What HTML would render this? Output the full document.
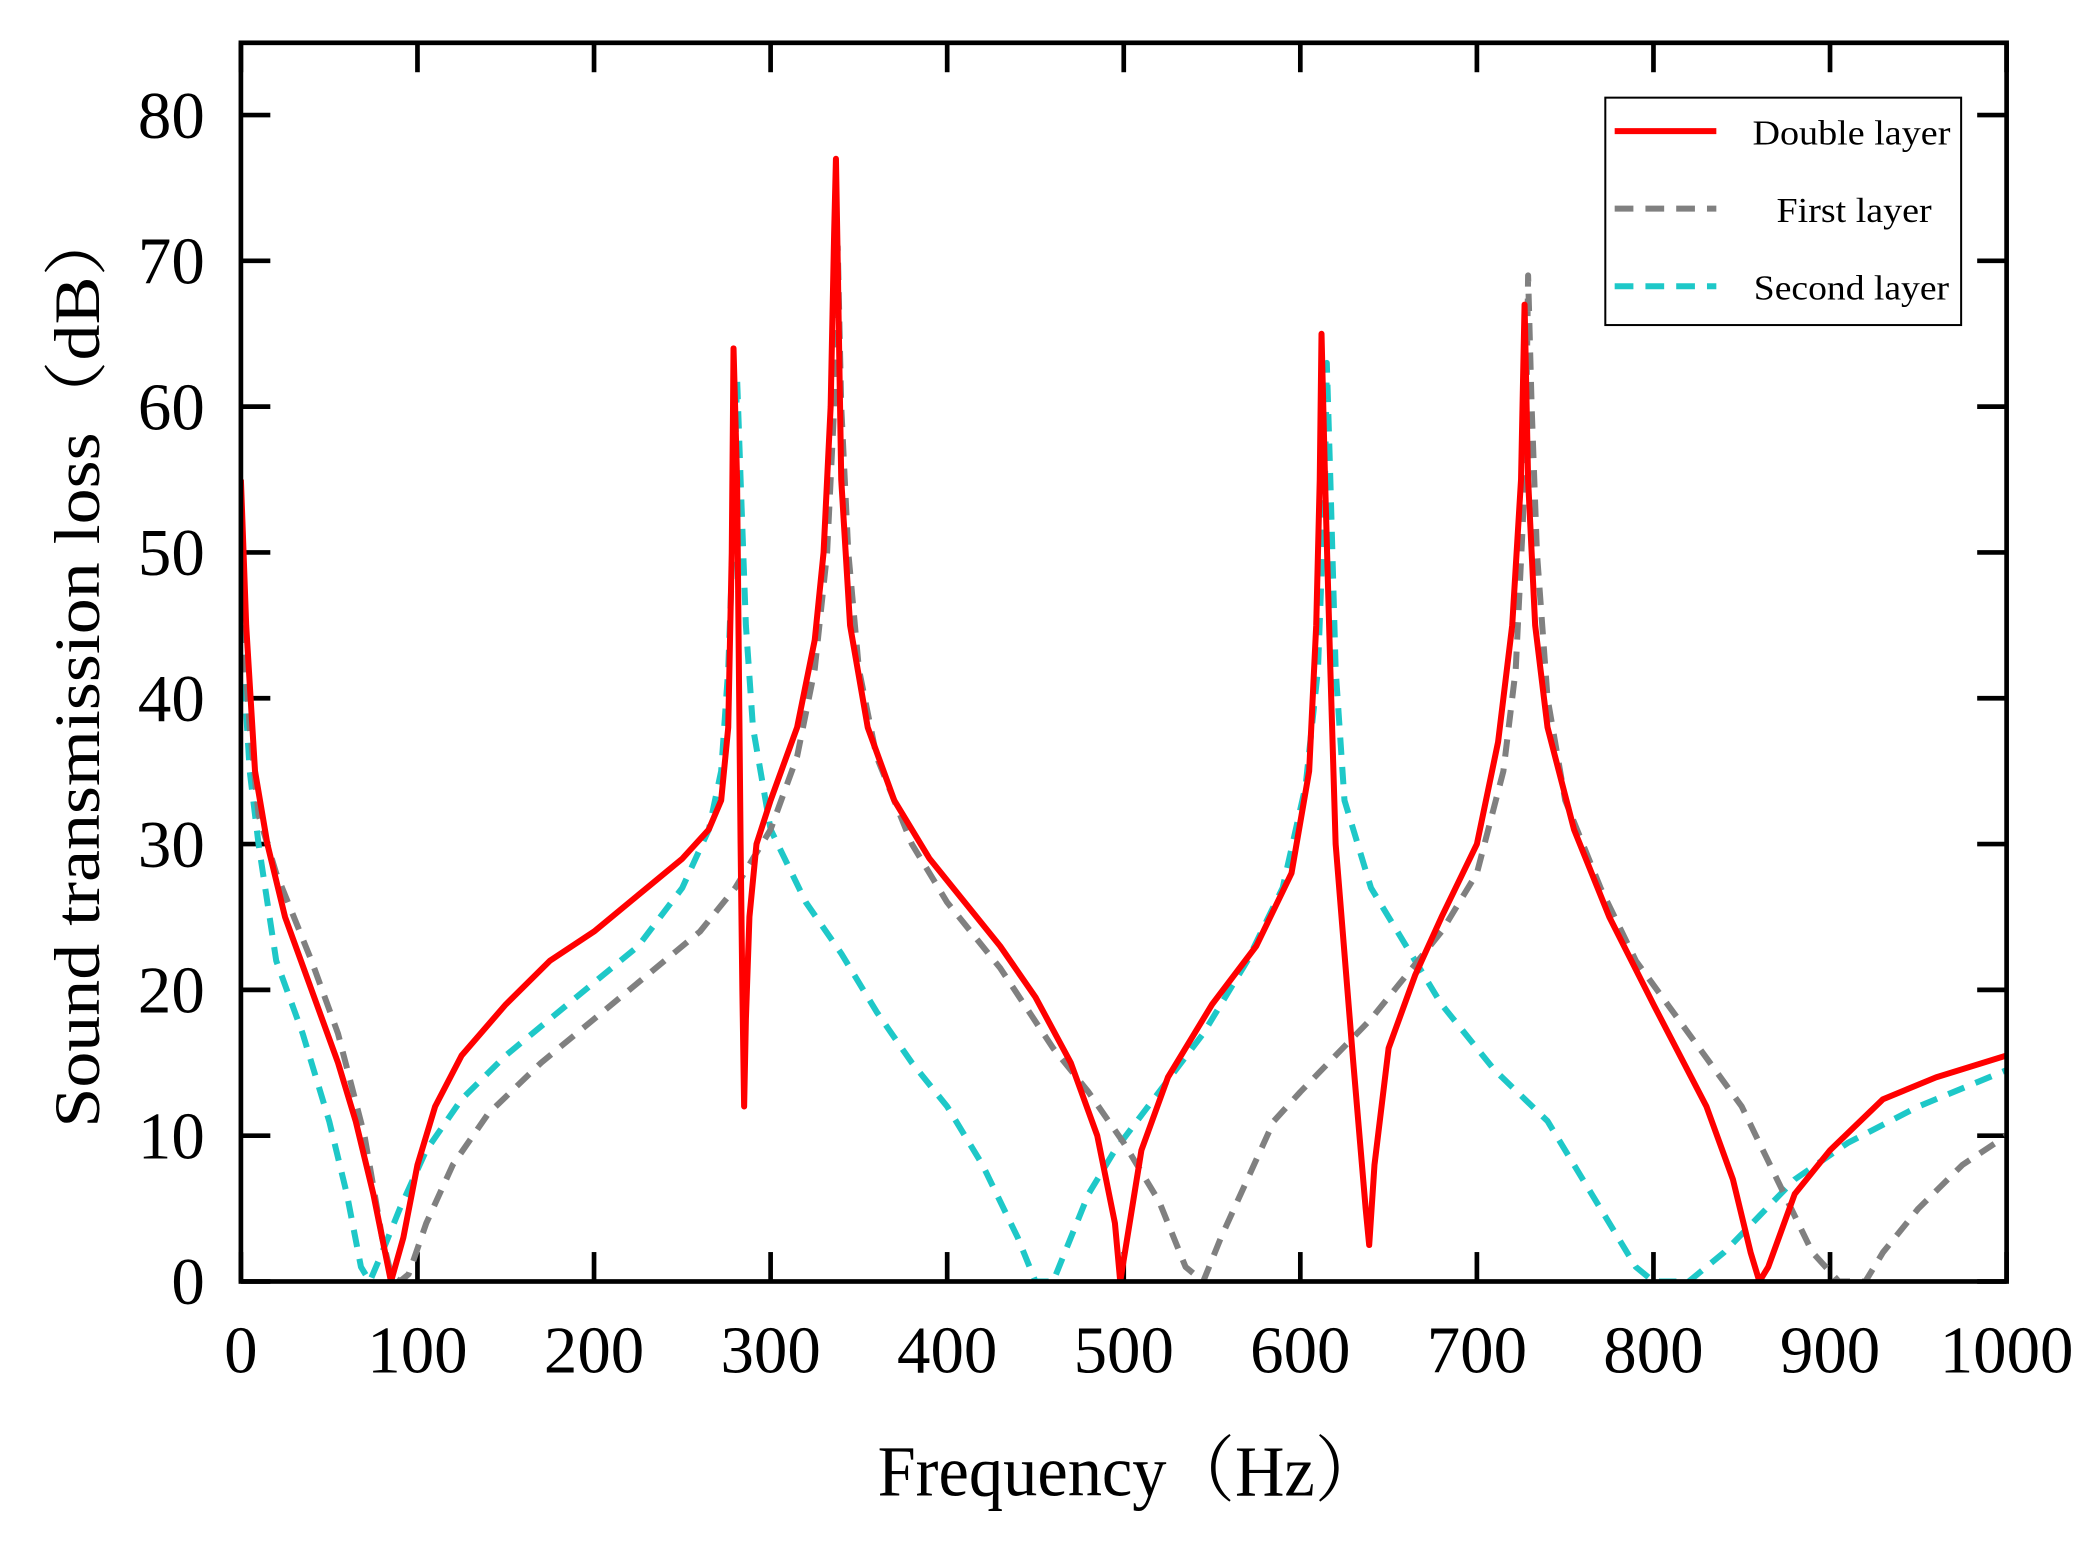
<!DOCTYPE html>
<html><head><meta charset="utf-8"><style>
html,body{margin:0;padding:0;background:#fff;}
svg{display:block;}
text{font-family:"Liberation Serif","Noto Serif CJK SC",serif;fill:#000;}
</style></head><body>
<svg id="chart" width="2091" height="1545" viewBox="0 0 1563 1155" xmlns="http://www.w3.org/2000/svg">
<defs><clipPath id="clip"><rect x="180" y="32" width="1320" height="926"/></clipPath></defs>
<g id="grid"></g>
<g id="series" clip-path="url(#clip)"></g>
<rect x="180" y="32" width="1320" height="926" fill="none" stroke="#000" stroke-width="3.5"/>
<text transform="translate(74,498) rotate(-90)" text-anchor="middle" font-size="48" textLength="690" lengthAdjust="spacingAndGlyphs">Sound transmission loss（dB）</text>
<text x="845" y="1118" text-anchor="middle" font-size="54" textLength="378" lengthAdjust="spacingAndGlyphs">Frequency（Hz）</text>
<g>
<rect x="1200" y="73" width="266" height="170" fill="#fff" stroke="#000" stroke-width="1.5"/>
<line x1="1207" y1="98" x2="1283" y2="98" stroke="#ff0000" stroke-width="4.5"/>
<text x="1384" y="108" text-anchor="middle" font-size="26" textLength="148" lengthAdjust="spacingAndGlyphs">Double layer</text>
<line x1="1207" y1="156" x2="1283" y2="156" stroke="#808080" stroke-width="4.5" stroke-dasharray="14,9"/>
<text x="1386" y="166" text-anchor="middle" font-size="26" textLength="116" lengthAdjust="spacingAndGlyphs">First layer</text>
<line x1="1207" y1="214" x2="1283" y2="214" stroke="#1ec8c8" stroke-width="4.5" stroke-dasharray="14,9"/>
<text x="1384" y="224" text-anchor="middle" font-size="26" textLength="146" lengthAdjust="spacingAndGlyphs">Second layer</text>
</g>
</svg>
<script>
const xTicks=[0,100,200,300,400,500,600,700,800,900,1000];
const yTicks=[0,10,20,30,40,50,60,70,80];
const doubleFreq=[0,3,8,15,25,40,55,65,75,85,92,100,110,125,150,175,200,225,250,265,272,276,278,279,281,283,284,285,286,288,292,300,315,325,330,334,336,337,338,340,345,355,370,390,410,430,450,470,485,495,498,502,510,525,550,575,595,605,609,611,612,614,617,620,630,637,639,642,650,665,680,700,712,720,725,727,729,733,740,755,775,800,830,845,855,860,865,880,900,930,960,1000];
const doubleDB=[55,45,35,30,25,20,15,11,6,0,3,8,12,15.5,19,22,24,26.5,29,31,33,38,50,64,55,30,20,12,18,25,30,33,38,44,50,60,72,77,70,55,45,38,33,29,26,23,19.5,15,10,4,0,3,9,14,19,23,28,35,45,55,65,55,42,30,15,5,2.5,8,16,21,25,30,37,45,55,67,55,45,38,31,25,19,12,7,2,0,1,6,9,12.5,14,15.5];
const firstFreq=[0,5,10,20,40,55,70,80,85,90,95,105,120,140,170,200,230,260,280,300,315,325,332,336,338,340,344,350,360,380,400,430,460,480,500,520,535,545,555,570,585,600,620,640,660,680,700,715,722,726,728,729,731,734,740,750,770,790,820,850,870,890,905,920,930,950,975,1000];
const firstDB=[47,38,32,28,22,17,10,3,0.5,0,0.5,4,8,11.5,15,18,21,24,27,31,36,42,50,60,71,60,50,42,36,30,26,21.5,16,13,9.5,5.5,1,0,3,7,11,13,15.5,18,21,24,28,35,42,52,60,69,60,50,40,33,27,22,17,12,7,2,0,0,2,5,8,10];
const secondFreq=[0,5,10,20,35,50,60,68,73,80,90,105,125,150,175,200,225,250,265,272,276,279,281,283,286,290,300,320,340,360,380,400,420,440,450,460,470,480,495,520,545,570,590,603,610,614,615,617,620,625,640,660,680,710,740,770,790,800,820,840,860,880,910,950,1000];
const secondDB=[45,35,30,22,17,11,6,1,0,2,5,9,12.5,15.5,18,20.5,23,27,31,35,42,52,62,55,45,38,31,26,22.5,18.5,15,12,8,3,0,0,3,6,9,13,17,22,27,34,42,55,63,55,42,33,27,23,19,14.5,11,5,1,0,0,2,4.5,7,9.5,12,14.5];

const NS='http://www.w3.org/2000/svg';
const X0=180,X1=1500,Y0=958,YPER=10.9;
function xs(f){return X0+(f-0)/1000*(X1-X0);}
function ys(v){return Y0-v*YPER;}
const grid=document.getElementById('grid');
const series=document.getElementById('series');
function mk(tag,attrs,parent){const e=document.createElementNS(NS,tag);for(const k in attrs)e.setAttribute(k,attrs[k]);parent.appendChild(e);return e;}
xTicks.forEach(t=>{
  const x=xs(t);
  const a=mk('line',{x1:x,y1:Y0,x2:x,y2:Y0-22,stroke:'#000','stroke-width':3.5},grid);
  
  
  const b=mk('line',{x1:x,y1:32,x2:x,y2:54,stroke:'#000','stroke-width':3.5},grid);
  
  
  const l=mk('text',{x:x,y:1026,'text-anchor':'middle','font-size':50},grid);
  l.textContent=t;
  
  
});
yTicks.forEach(t=>{
  const y=ys(t);
  const a=mk('line',{x1:X0,y1:y,x2:X0+22,y2:y,stroke:'#000','stroke-width':3.5},grid);
  
  
  const b=mk('line',{x1:X1,y1:y,x2:X1-22,y2:y,stroke:'#000','stroke-width':3.5},grid);
  
  
  const l=mk('text',{x:153,y:y+17,'text-anchor':'end','font-size':50},grid);
  l.textContent=t;
  
  
});
function draw(fs,vs,color,dash,name){
  let d='';
  fs.forEach((f,i)=>{d+=(i?'L':'M')+xs(f).toFixed(2)+','+ys(vs[i]).toFixed(2);});
  const p=mk('path',{d:d,fill:'none',stroke:color,'stroke-width':4.5,'stroke-linejoin':'round'},series);
  if(dash)p.setAttribute('stroke-dasharray',dash);
  
  
}
draw(secondFreq,secondDB,'#1ec8c8','13,9','second-layer-line');
draw(firstFreq,firstDB,'#808080','13,9','first-layer-line');
draw(doubleFreq,doubleDB,'#ff0000',null,'double-layer-line');
</script>
</body></html>
